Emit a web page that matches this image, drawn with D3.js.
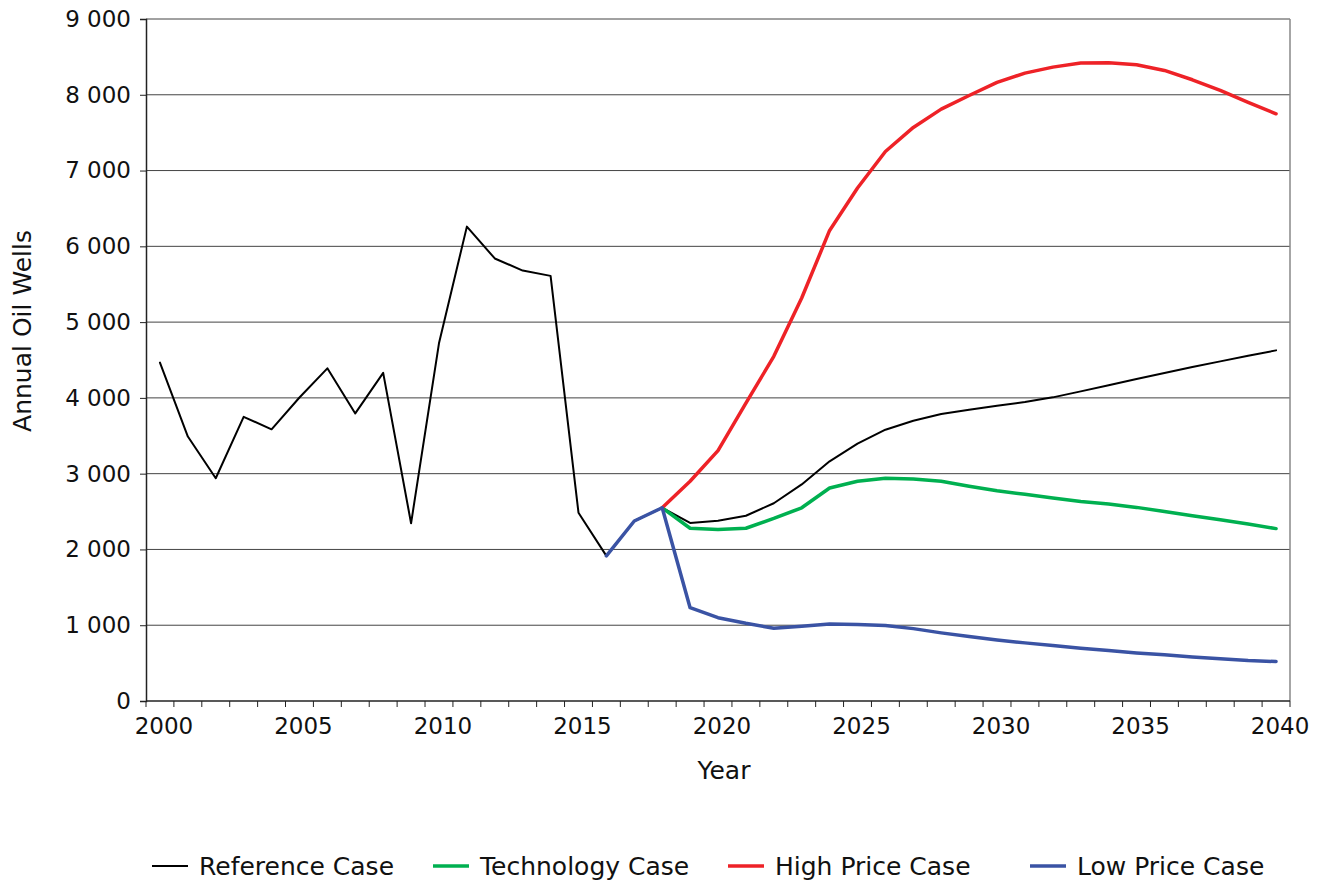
<html>
<head>
<meta charset="utf-8">
<title>Annual Oil Wells</title>
<style>
body { margin: 0; background: #fff; }
svg { display: block; font-family: "DejaVu Sans", sans-serif; }
.grid line { stroke: #444; stroke-width: 1; }
.series { fill: none; stroke-linejoin: round; stroke-linecap: round; }
</style>
</head>
<body>
<div id="chart"></div>
<script src="https://d3js.org/d3.v7.min.js"></script>
<script>

// years on the category axis
const years = d3.range(2000, 2041);
const projYears = d3.range(2016, 2041);
const yTicks = [0, 1000, 2000, 3000, 4000, 5000, 6000, 7000, 8000, 9000];

// Reference case, 2000-2040 (history up to 2018)
const reference = [4465, 3490, 2940, 3750, 3585, 4005, 4390, 3795, 4330, 2345,
	4720, 6260, 5840, 5680, 5610, 2485, 1915, 2375, 2550,
	2350, 2380, 2445, 2610, 2858, 3163, 3396, 3580, 3699, 3787, 3844, 3897,
	3945, 4007, 4086, 4166, 4249, 4328, 4407, 4482, 4557, 4627];

// side cases, 2016-2040
const technology = [null, null, 2550,
	2280, 2262, 2280, 2410, 2550, 2811, 2899, 2938, 2930, 2899, 2833, 2775,
	2727, 2678, 2634, 2599, 2555, 2502, 2445, 2392, 2335, 2275];
const highPrice = [null, null, 2550,
	2900, 3305, 3930, 4548, 5318, 6210, 6769, 7252, 7569, 7811, 7991, 8163,
	8286, 8365, 8418, 8422, 8396, 8321, 8198, 8057, 7899, 7749];
const lowPrice = [1915, 2375, 2550,
	1231, 1099, 1025, 960, 985, 1015, 1008, 995, 955, 899, 850, 806,
	767, 731, 696, 665, 635, 609, 582, 556, 534, 521];

const seriesNames = ['Reference Case', 'Technology Case', 'High Price Case', 'Low Price Case'];
const seriesColors = ['#000000', '#00b050', '#ee2227', '#3a53a4'];
const seriesWidths = [2, 3.5, 3.5, 3.5];

const width = 1322, height = 884;
const margin = {top: 19, right: 32, bottom: 183, left: 146};

const svg = d3.select('#chart').append('svg')
	.attr('width', width)
	.attr('height', height);

const x = d3.scaleBand()
	.domain(years)
	.range([margin.left, width - margin.right])
	.padding(0);

const y = d3.scaleLinear()
	.domain([0, 9000])
	.range([height - margin.bottom, margin.top]);

const cx = d => x(d) + x.bandwidth() / 2;

const fmt = d3.formatLocale({decimal: '.', thousands: ' ', grouping: [3], currency: ['', '']}).format(',');

// horizontal gridlines
svg.append('g')
	.attr('class', 'grid')
	.selectAll('line')
	.data(yTicks.slice(1))
	.join('line')
	.attr('x1', margin.left)
	.attr('x2', width - margin.right)
	.attr('y1', d => y(d))
	.attr('y2', d => y(d));

// right border of plot
svg.append('line')
	.attr('x1', width - margin.right).attr('x2', width - margin.right)
	.attr('y1', margin.top).attr('y2', height - margin.bottom)
	.attr('stroke', '#888').attr('stroke-width', 1.5);

// y axis
const yAxis = svg.append('g')
	.attr('transform', `translate(${margin.left},0)`)
	.call(d3.axisLeft(y).tickValues(yTicks).tickSize(6).tickPadding(9).tickFormat(fmt));
yAxis.select('.domain').attr('stroke', '#222').attr('stroke-width', 1.5);
yAxis.selectAll('.tick line').attr('stroke', '#222');
yAxis.selectAll('text')
	.attr('font-size', 23)
	.attr('font-family', '"DejaVu Sans", sans-serif')
	.attr('fill', '#111');

// x axis: ticks on category edges, labels every 5 years
const xg = svg.append('g');
xg.append('line')
	.attr('x1', margin.left).attr('x2', width - margin.right)
	.attr('y1', y(0)).attr('y2', y(0))
	.attr('stroke', '#222').attr('stroke-width', 1.5);
xg.selectAll('.xtick')
	.data(years.concat([2041]))
	.join('line')
	.attr('class', 'xtick')
	.attr('x1', d => d === 2041 ? width - margin.right : x(d))
	.attr('x2', d => d === 2041 ? width - margin.right : x(d))
	.attr('y1', y(0))
	.attr('y2', y(0) + 6)
	.attr('stroke', '#222');
xg.selectAll('.xlabel')
	.data(years.filter(d => d % 5 === 0))
	.join('text')
	.attr('class', 'xlabel')
	.attr('x', d => cx(d) + 4)
	.attr('y', y(0) + 33)
	.attr('text-anchor', 'middle')
	.attr('font-size', 23)
	.attr('fill', '#111')
	.text(d => d);

// axis titles
svg.append('text')
	.attr('x', 724)
	.attr('y', 779)
	.attr('text-anchor', 'middle')
	.attr('font-size', 25)
	.attr('fill', '#111')
	.text('Year');

svg.append('text')
	.attr('transform', 'translate(31,331) rotate(-90)')
	.attr('text-anchor', 'middle')
	.attr('font-size', 25)
	.attr('fill', '#111')
	.text('Annual Oil Wells');

// lines
const line = d3.line()
	.defined(d => d[1] != null)
	.x(d => cx(d[0]))
	.y(d => y(d[1]));

const seriesData = [
	years.map((yr, i) => [yr, reference[i]]),
	projYears.map((yr, i) => [yr, technology[i]]),
	projYears.map((yr, i) => [yr, highPrice[i]]),
	projYears.map((yr, i) => [yr, lowPrice[i]])
];

svg.append('g')
	.selectAll('path')
	.data(seriesData)
	.join('path')
	.attr('class', 'series')
	.attr('d', line)
	.attr('stroke', (d, i) => seriesColors[i])
	.attr('stroke-width', (d, i) => seriesWidths[i]);

// legend
const legendX = [152, 433, 728, 1030];
const legend = svg.append('g')
	.selectAll('g')
	.data(seriesNames)
	.join('g')
	.attr('transform', (d, i) => `translate(${legendX[i]},866)`);
legend.append('line')
	.attr('x1', 0).attr('x2', 36)
	.attr('stroke', (d, i) => seriesColors[i])
	.attr('stroke-width', (d, i) => seriesWidths[i]);
legend.append('text')
	.attr('x', 47)
	.attr('dy', '0.35em')
	.attr('font-size', 25)
	.attr('fill', '#111')
	.text(d => d);

</script>
</body>
</html>
